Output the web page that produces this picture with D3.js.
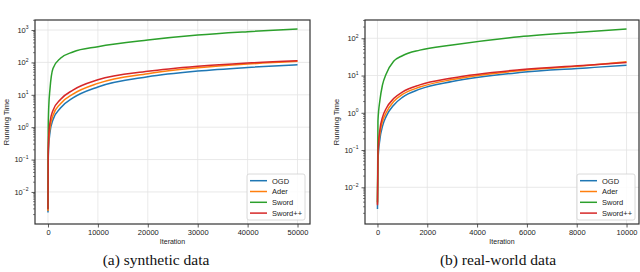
<!DOCTYPE html>
<html>
<head>
<meta charset="utf-8">
<script src="https://cdn.jsdelivr.net/npm/d3@7"></script>
<style>
  body { margin: 0; background: #fff; }
  svg { display: block; font-family: "Liberation Sans", Arial, sans-serif; }
  .caption { font-family: "Liberation Serif", "Times New Roman", serif; font-size: 15.5px; fill: #111; }
</style>
</head>
<body>
<svg id="chart" width="640" height="272"></svg>
<script>
// series names and colours (matplotlib tab10)
const seriesNames = ["OGD", "Ader", "Sword", "Sword++"];
const seriesColors = ["#1f77b4", "#ff7f0e", "#2ca02c", "#d62728"];

// (a) synthetic data
const synthIter = [1, 50, 150, 400, 1000, 2500, 5000, 10000, 20000, 30000, 40000, 50000];
const synthOGD = [0.0023, 0.09, 0.26, 0.68, 1.7, 3.9, 8.0, 17.5, 36, 54, 70, 85];
const synthAder = [0.0026, 0.12, 0.36, 0.95, 2.3, 5.3, 10.5, 22.5, 45, 68, 89, 108];
const synthSword = [0.003, 0.8, 4, 15, 65, 134, 210, 305, 490, 700, 890, 1080];
const synthSwordPP = [0.0029, 0.18, 0.55, 1.4, 3.3, 7.2, 14, 29, 53, 76, 96, 113];
const synthXTicks = [0, 10000, 20000, 30000, 40000, 50000];
const synthYTicks = [-2, -1, 0, 1, 2, 3];

// (b) real-world data
const realIter = [1, 20, 100, 200, 350, 650, 1000, 1700, 3000, 5700, 8400, 10000];
const realOGD = [0.0026, 0.05, 0.2, 0.43, 0.8, 1.6, 2.6, 4.3, 6.9, 12, 16, 19];
const realAder = [0.0036, 0.07, 0.28, 0.58, 1.0, 2.0, 3.1, 4.9, 7.8, 13.5, 18.5, 23.5];
const realSword = [0.004, 0.6, 2.2, 5.5, 11, 24, 34, 48, 66, 110, 150, 178];
const realSwordPP = [0.0033, 0.09, 0.36, 0.75, 1.3, 2.4, 3.6, 5.6, 8.6, 14.3, 19, 22.4];
const realXTicks = [0, 2000, 4000, 6000, 8000, 10000];
const realYTicks = [-2, -1, 0, 1, 2];

const svg = d3.select("#chart");

function drawPanel(cfg) {
    const x = d3.scaleLinear().domain(cfg.xDomain).range([cfg.left, cfg.right]);
    const y = d3.scaleLog().domain(cfg.yDomain).range([cfg.bottom, cfg.top]);
    const g = svg.append("g");

    // grid
    g.append("g").selectAll("line.vg")
        .data(cfg.xTicks)
        .enter().append("line")
        .attr("x1", d => x(d)).attr("x2", d => x(d))
        .attr("y1", cfg.top).attr("y2", cfg.bottom)
        .attr("stroke", "#e3e3e3").attr("stroke-width", 0.8);
    g.append("g").selectAll("line.hg")
        .data(cfg.yTicks)
        .enter().append("line")
        .attr("x1", cfg.left).attr("x2", cfg.right)
        .attr("y1", d => y(Math.pow(10, d))).attr("y2", d => y(Math.pow(10, d)))
        .attr("stroke", "#e3e3e3").attr("stroke-width", 0.8);

    // lines
    const clipId = "clip-" + cfg.id;
    svg.append("clipPath").attr("id", clipId)
        .append("rect")
        .attr("x", cfg.left).attr("y", cfg.top)
        .attr("width", cfg.right - cfg.left).attr("height", cfg.bottom - cfg.top);

    const line = d3.line()
        .x(d => x(d[0]))
        .y(d => y(d[1]))
        .curve(d3.curveMonotoneX);

    const drawOrder = [0, 1, 2, 3];
    g.append("g").attr("clip-path", `url(#${clipId})`)
        .selectAll("path")
        .data(drawOrder)
        .enter().append("path")
        .attr("d", i => line(cfg.iter.map((t, k) => [t, cfg.series[i][k]])))
        .attr("fill", "none")
        .attr("stroke", i => seriesColors[i])
        .attr("stroke-width", 1.5);

    // x axis
    const xAxis = g.append("g")
        .attr("transform", `translate(0,${cfg.bottom})`)
        .call(d3.axisBottom(x).tickValues(cfg.xTicks).tickFormat(d3.format("d"))
            .tickSize(3.5).tickPadding(2));
    xAxis.select(".domain").remove();
    xAxis.selectAll("line").attr("stroke", "#333").attr("stroke-width", 0.8);
    xAxis.selectAll("text").attr("font-size", 7.5).attr("fill", "#222")
        .attr("font-family", "Liberation Sans, Arial, sans-serif");

    // y axis, major ticks with 10^k labels
    const yAxis = g.append("g")
        .attr("transform", `translate(${cfg.left},0)`)
        .call(d3.axisLeft(y).tickValues(cfg.yTicks.map(k => Math.pow(10, k)))
            .tickSize(3.5).tickPadding(3));
    yAxis.select(".domain").remove();
    yAxis.selectAll("line").attr("stroke", "#333").attr("stroke-width", 0.8);
    yAxis.selectAll("text")
        .attr("font-size", 7.5).attr("fill", "#222")
        .attr("font-family", "Liberation Sans, Arial, sans-serif")
        .each(function (d) {
            const k = Math.round(Math.log10(d));
            const t = d3.select(this).text("10");
            t.append("tspan").attr("dy", -3.5).attr("font-size", 5).text(k < 0 ? "\u2212" + (-k) : k);
        });

    // minor ticks
    const minors = [];
    const lo = Math.floor(Math.log10(cfg.yDomain[0]));
    const hi = Math.ceil(Math.log10(cfg.yDomain[1]));
    for (let k = lo; k <= hi; k++) {
        for (let m = 2; m <= 9; m++) {
            const v = m * Math.pow(10, k);
            if (v >= cfg.yDomain[0] && v <= cfg.yDomain[1]) minors.push(v);
        }
    }
    g.append("g").selectAll("line")
        .data(minors)
        .enter().append("line")
        .attr("x1", cfg.left - 2).attr("x2", cfg.left)
        .attr("y1", d => y(d)).attr("y2", d => y(d))
        .attr("stroke", "#333").attr("stroke-width", 0.6);

    // frame
    g.append("rect")
        .attr("x", cfg.left).attr("y", cfg.top)
        .attr("width", cfg.right - cfg.left).attr("height", cfg.bottom - cfg.top)
        .attr("fill", "none").attr("stroke", "#333").attr("stroke-width", 1.2);

    // axis labels
    g.append("text")
        .attr("x", (cfg.left + cfg.right) / 2).attr("y", cfg.bottom + 20)
        .attr("text-anchor", "middle").attr("font-size", 7).attr("fill", "#222")
        .text("Iteration");
    g.append("text")
        .attr("transform", `translate(${cfg.yLabelX},${(cfg.top + cfg.bottom) / 2}) rotate(-90)`)
        .attr("text-anchor", "middle").attr("font-size", 7.5).attr("fill", "#222")
        .text("Running Time");

    // legend
    const lg = g.append("g").attr("transform", `translate(${cfg.legendX},${cfg.legendY})`);
    lg.append("rect")
        .attr("width", cfg.legendW).attr("height", 46).attr("rx", 2)
        .attr("fill", "#fff").attr("fill-opacity", 0.85)
        .attr("stroke", "#d0d0d0").attr("stroke-width", 0.8);
    const items = lg.selectAll("g.item")
        .data(seriesNames)
        .enter().append("g")
        .attr("transform", (d, i) => `translate(3,${6.7 + i * 10.8})`);
    items.append("line")
        .attr("x1", 0).attr("x2", 17)
        .attr("stroke", (d, i) => seriesColors[i]).attr("stroke-width", 1.5);
    items.append("text")
        .attr("x", 22).attr("y", 2.8)
        .attr("font-size", 7.5).attr("fill", "#222")
        .text(d => d);

    // caption
    svg.append("text").attr("class", "caption")
        .attr("x", cfg.captionX).attr("y", 265)
        .attr("text-anchor", "middle")
        .text(cfg.caption);
}

drawPanel({
    id: "a",
    left: 35, right: 310, top: 20, bottom: 224,
    xDomain: [-2600, 52500],
    yDomain: [Math.pow(10, -2.99), Math.pow(10, 3.31)],
    xTicks: synthXTicks, yTicks: synthYTicks,
    iter: synthIter,
    series: [synthOGD, synthAder, synthSword, synthSwordPP],
    yLabelX: 9,
    legendX: 247, legendY: 174, legendW: 58,
    captionX: 156, caption: "(a) synthetic data"
});

drawPanel({
    id: "b",
    left: 365, right: 639, top: 20, bottom: 224,
    xDomain: [-500, 10500],
    yDomain: [Math.pow(10, -2.985), Math.pow(10, 2.49)],
    xTicks: realXTicks, yTicks: realYTicks,
    iter: realIter,
    series: [realOGD, realAder, realSword, realSwordPP],
    yLabelX: 339,
    legendX: 577, legendY: 174, legendW: 58,
    captionX: 498, caption: "(b) real-world data"
});
</script>
</body>
</html>
